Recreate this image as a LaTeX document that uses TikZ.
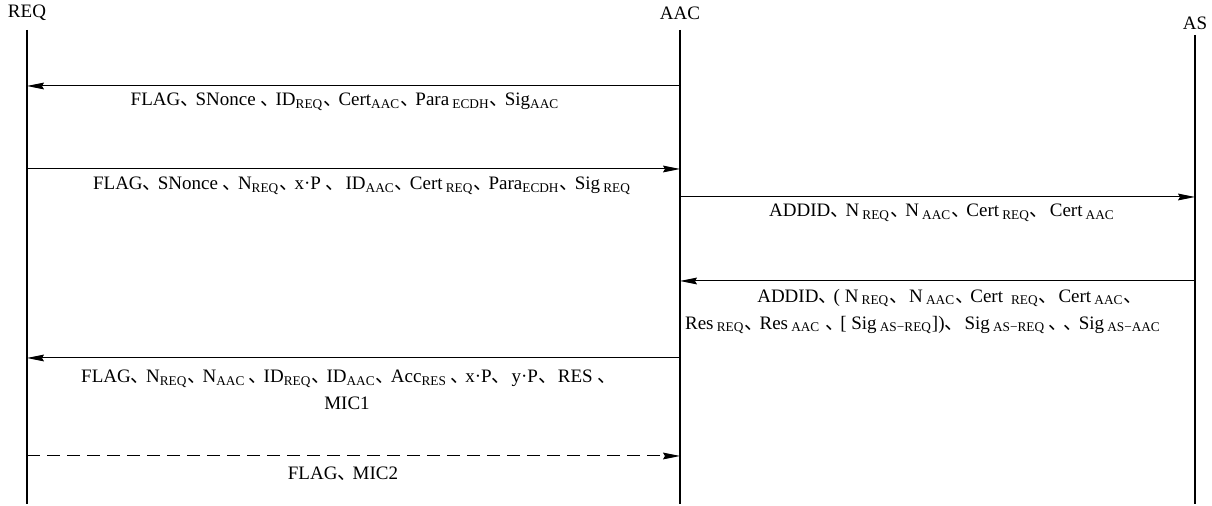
\documentclass[tikz,border=0pt]{standalone}
\usepackage{fontspec}
\setmainfont{Liberation Serif}
\newfontfamily\cjk{Noto Sans CJK SC}
\usetikzlibrary{arrows.meta}
\newcommand{\dn}{{\cjk 、}\kern-0.2em}
\newcommand{\lo}[1]{\textsubscript{#1}}

\begin{document}
\begin{tikzpicture}[x=0.5pt,y=-0.5pt,
  party/.style={font=\fontsize{9.5}{11}\selectfont,inner sep=0pt},
  life/.style={line width=1pt},
  msg/.style={line width=0.5pt,-{Stealth[length=8.5pt,width=3.4pt,inset=1pt]}},
  txt/.style={font=\fontsize{9.5}{13.5}\selectfont,inner sep=0pt,align=center}]
\useasboundingbox (0,0) rectangle (1212,506);

% parties
\node[party] (req) at (27,13) {REQ};
\node[party] (aac) at (680,13) {AAC};
\node[party] (as)  at (1195,23) {AS};
\coordinate (reqend) at (27,504);
\coordinate (aacend) at (680,504);
\coordinate (asend)  at (1195,504);
\draw[life] (27,30) -- (reqend);
\draw[life] (680,30) -- (aacend);
\draw[life] (1195,35) -- (asend);

% message points on the lifelines
\coordinate (r1) at (27,86);   \coordinate (a1) at (680,86);
\coordinate (r2) at (27,169);  \coordinate (a2) at (680,169);
\coordinate (a3) at (680,197); \coordinate (s3) at (1195,197);
\coordinate (a4) at (680,281); \coordinate (s4) at (1195,281);
\coordinate (r5) at (27,358);  \coordinate (a5) at (680,358);
\coordinate (r6) at (27,456);  \coordinate (a6) at (680,456);

\draw[msg] (a1) -- (r1);
\draw[msg] (r2) -- (a2);
\draw[msg] (a3) -- (s3);
\draw[msg] (s4) -- (a4);
\draw[msg] (a5) -- (r5);
\draw[msg,dashed,dash pattern=on 6.5pt off 3.5pt] (r6) -- (a6);

% message contents
\node[txt] (m1) at (345,102)
  {FLAG\dn SNonce \dn ID\lo{REQ}\dn Cert\lo{AAC}\dn Para\,\lo{ECDH}\dn Sig\lo{AAC}};
\node[txt] (m2) at (362,186)
  {FLAG\dn SNonce \dn N\lo{REQ}\dn x·P \dn\ ID\lo{AAC}\dn Cert\,\lo{REQ}\dn Para\lo{ECDH}\dn Sig\,\lo{REQ}};
\node[txt] (m3) at (942,213)
  {ADDID\dn N\,\lo{REQ}\dn N\,\lo{AAC}\dn Cert\,\lo{REQ}\dn\ Cert\,\lo{AAC}};
\node[txt] (m4) at (923,311.5)
  {\hspace*{25pt}ADDID\dn( N\,\lo{REQ}\dn\ N\,\lo{AAC}\dn Cert\, \lo{REQ}\dn\ Cert\,\lo{AAC}\dn\\
   Res\,\lo{REQ}\dn Res\,\lo{AAC} \dn [ Sig\,\lo{AS−REQ}])\dn\ Sig\,\lo{AS−REQ}\,\dn\dn Sig\,\lo{AS−AAC}};
\node[txt] (m5) at (347,390)
  {FLAG\dn N\lo{REQ}\dn N\lo{AAC}\,\dn ID\lo{REQ}\dn ID\lo{AAC}\dn Acc\lo{RES}\,\dn x·P\dn\ y·P\dn\ RES \dn\\ MIC1};
\node[txt] (m6) at (343,474) {FLAG\dn MIC2};
\end{tikzpicture}
\end{document}
